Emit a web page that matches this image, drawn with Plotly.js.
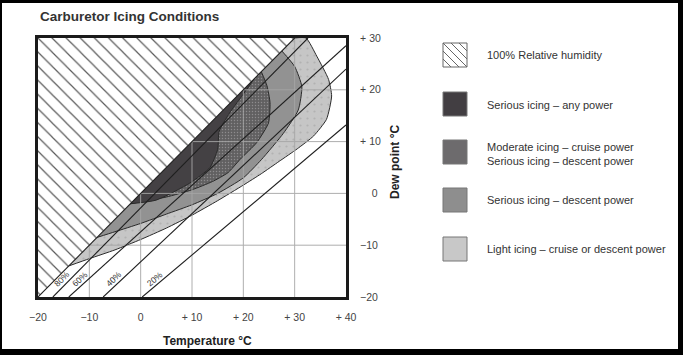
<!DOCTYPE html>
<html><head><meta charset="utf-8">
<script src="https://cdn.plot.ly/plotly-3.0.1.min.js"></script>
<style>
html,body{margin:0;padding:0;background:#000;width:683px;height:355px;overflow:hidden}
#chart{position:absolute;left:2px;top:3px;width:676px;height:346px;background:#fff}
</style></head><body><div id="chart"></div>
<script>
// ---- tick labels ----
const xTickVals = [-20, -10, 0, 10, 20, 30, 40];
const xTickText = ["\u221220", "\u221210", "0", "+ 10", "+ 20", "+ 30", "+ 40"];
const yTickVals = [-20, -10, 0, 10, 20, 30];
const yTickText = ["\u221220", "\u221210", "\u2007\u20070", "+ 10", "+ 20", "+ 30"];

// ---- relative humidity lines (temperature, dew point) ----
const rh100T = [-20, 30],     rh100Td = [-20, 30];
const rh80T  = [-17.1, 32.6], rh80Td  = [-20, 30];
const rh60T  = [-14.0, 40],   rh60Td  = [-20, 28.5];
const rh40T  = [-7.3, 40],    rh40Td  = [-20, 24];
const rh20T  = [0.3, 40],     rh20Td  = [-20, 13.2];
const rhLabels = ["80%", "60%", "40%", "20%"];

// ---- 100% relative humidity (hatched) area ----
const hatchT  = [-20, 30, -20];
const hatchTd = [-20, 30, 30];

// ---- icing zones (temperature, dew point) ----
const lightT  = [-14, -10, -5, 0, 5, 10, 15, 20, 23.5, 27, 30.5, 33.7, 36.2, 37.2, 36.6, 34.3, 32.2, 30];
const lightTd = [-14, -12.6, -10.9, -8.9, -6.7, -4.2, -1.4, 1.6, 3.8, 6.2, 8.6, 11.1, 14.3, 18.8, 22.0, 26.5, 30, 30];
const medT    = [-8.5, -5, 0, 5, 10, 15, 20, 23.5, 27.8, 30.7, 31.4, 30, 27.5];
const medTd   = [-8.5, -7.4, -5.8, -4.0, -2.2, 0, 3.0, 6.5, 11.6, 16.1, 20.6, 24.5, 27.5];
const modT    = [-2, 0, 5, 10, 14, 17, 19.4, 22.6, 24.9, 25.2, 24.6, 23.5];
const modTd   = [-2, -1.6, -0.7, 0.7, 2.3, 4.0, 6.6, 9.8, 13.6, 17.5, 20.8, 23.5];
const darkT   = [-2, 3, 9.6, 13.5, 15, 15.3, 17.3, 19.5, 21.2, 22];
const darkTd  = [-2, -1.3, 2, 5, 8.5, 12, 15.5, 18.5, 20.8, 22];

const seriesNames = [
  "100% Relative humidity",
  "Serious icing \u2013 any power",
  "Moderate icing \u2013 cruise power<br>Serious icing \u2013 descent power",
  "Serious icing \u2013 descent power",
  "Light icing \u2013 cruise or descent power"
];

// ---- styles ----
const X_RANGE = [-20, 40], Y_RANGE = [-20, 30];
const colLight = "#c6c6c6", colMed = "#929292", colMod = "#616061", colDark = "#444144";
const edge = {color: "#2a2a2a", width: 1, shape: "spline", smoothing: 0.55};
const FONT = "Liberation Sans, Arial, Helvetica, sans-serif";

// window pixel -> paper (plot area: x 38..346, y 38..297)
const PX = p => (p - 38) / 308;
const PY = p => (297 - p) / 259;

function zone(T, Td, col, extra) {
  return Object.assign({type: "scatter", mode: "lines", x: T, y: Td, fill: "toself",
    fillcolor: col, line: edge, hoverinfo: "skip"}, extra || {});
}

const traces = [];
traces.push(zone(lightT, lightTd, colLight, {fillpattern: {shape: ".", fgcolor: "#b2b2b2", bgcolor: colLight, size: 7, solidity: 0.08, fillmode: "replace"}}));
traces.push(zone(medT, medTd, colMed));
traces.push(zone(modT, modTd, colMod, {fillpattern: {shape: ".", fgcolor: "#8e8c8e", bgcolor: colMod, size: 3, solidity: 0.18, fillmode: "replace"}}));
traces.push(zone(darkT, darkTd, colDark));

// grid lines drawn from tick values
const gx = [], gy = [];
xTickVals.filter(v => v > X_RANGE[0] && v < X_RANGE[1]).forEach(v => { gx.push(v, v, null); gy.push(Y_RANGE[0], Y_RANGE[1], null); });
yTickVals.filter(v => v > Y_RANGE[0] && v < Y_RANGE[1]).forEach(v => { gx.push(X_RANGE[0], X_RANGE[1], null); gy.push(v, v, null); });
traces.push({type: "scatter", mode: "lines", x: gx, y: gy, line: {color: "#a6a6a6", width: 1}, opacity: 0.9, hoverinfo: "skip"});

// hatched 100% RH area
traces.push({type: "scatter", mode: "lines", x: hatchT, y: hatchTd, fill: "toself", fillcolor: "#ffffff",
  fillpattern: {shape: "\\", fgcolor: "#5a5a5a", bgcolor: "#ffffff", size: 10, solidity: 0.12, fillmode: "replace"},
  line: {width: 0}, hoverinfo: "skip"});

// RH lines
const rhLines = [[rh100T, rh100Td], [rh80T, rh80Td], [rh60T, rh60Td], [rh40T, rh40Td], [rh20T, rh20Td]];
rhLines.forEach(([t, d]) => traces.push({type: "scatter", mode: "lines", x: t, y: d,
  line: {color: "#1e1e1e", width: 1.1}, hoverinfo: "skip"}));

// ---- annotations ----
const ann = [];
const pxPerX = 308 / (X_RANGE[1] - X_RANGE[0]), pxPerY = 259 / (Y_RANGE[1] - Y_RANGE[0]);
const LABEL_TD = -16.5;
rhLines.slice(1).forEach(([t, d], i) => {
  const f = (LABEL_TD - d[0]) / (d[1] - d[0]);
  const tx = t[0] + f * (t[1] - t[0]);
  const slope = (d[1] - d[0]) / (t[1] - t[0]);
  const ang = Math.atan(slope * pxPerY / pxPerX) * 180 / Math.PI;
  ann.push({x: tx, y: LABEL_TD, xref: "x", yref: "y", text: rhLabels[i], showarrow: false,
    textangle: -ang, xshift: -9, font: {family: FONT, size: 8.5, color: "#333"}});
});

// title & axis titles
ann.push({x: PX(38), y: PY(17), xref: "paper", yref: "paper", xanchor: "left", yanchor: "middle",
  text: "<b>Carburetor Icing Conditions</b>", showarrow: false, font: {family: FONT, size: 13.5, color: "#333"}});
ann.push({x: PX(207.5), y: PY(341), xref: "paper", yref: "paper", xanchor: "center", yanchor: "middle",
  text: "<b>Temperature \u00b0C</b>", showarrow: false, font: {family: FONT, size: 12, color: "#222"}});
ann.push({x: PX(395), y: PY(162), xref: "paper", yref: "paper", xanchor: "center", yanchor: "middle",
  text: "<b>Dew point \u00b0C</b>", textangle: -90, showarrow: false, font: {family: FONT, size: 12, color: "#222"}});

// legend (manual)
const boxTops = [43, 92, 140, 188, 237];
const boxCols = ["#ffffff", "#423e42", "#6d6b6d", "#8e8e8e", "#c8c8c8"];
const textYs = [55, 105, 153.5, 200, 249];
const shapes = [];
boxTops.forEach((top, i) => {
  shapes.push({type: "rect", xref: "paper", yref: "paper", x0: PX(443), x1: PX(467), y0: PY(top + 24), y1: PY(top),
    fillcolor: boxCols[i], line: {color: i === 0 ? "#666" : "#777", width: 1}});
  ann.push({x: PX(485), y: PY(textYs[i]), xref: "paper", yref: "paper", xanchor: "left", yanchor: "middle", align: "left",
    text: seriesNames[i], showarrow: false, font: {family: FONT, size: 11, color: "#333"}});
});
// hatch strokes in first legend box
let hp = "";
[[443, 43, 467, 67], [451, 43, 467, 59], [443, 51, 459, 67], [459, 43, 467, 51], [443, 59, 451, 67]].forEach(([a, b, c, d]) => {
  hp += `M${PX(a)},${PY(b)}L${PX(c)},${PY(d)}`;
});
shapes.push({type: "path", xref: "paper", yref: "paper", path: hp, line: {color: "#666", width: 1}});

const layout = {
  width: 676, height: 346,
  margin: {l: 36, r: 332, t: 35, b: 52},
  paper_bgcolor: "#ffffff", plot_bgcolor: "#ffffff",
  showlegend: false, hovermode: false,
  font: {family: FONT},
  xaxis: {range: X_RANGE, tickvals: xTickVals, ticktext: xTickText, ticks: "", showgrid: false, zeroline: false,
    showline: true, mirror: true, linewidth: 3, linecolor: "#1a1a1a", ticklabelstandoff: 8,
    tickfont: {family: FONT, size: 10.5, color: "#444"}, fixedrange: true},
  yaxis: {range: Y_RANGE, side: "right", tickvals: yTickVals, ticktext: yTickText, ticks: "", showgrid: false, zeroline: false,
    showline: true, mirror: true, linewidth: 3, linecolor: "#1a1a1a", ticklabelstandoff: 9,
    tickfont: {family: FONT, size: 10.5, color: "#444"}, fixedrange: true},
  annotations: ann,
  shapes: shapes
};

Plotly.newPlot("chart", traces, layout, {staticPlot: true, displayModeBar: false});
</script></body></html>
